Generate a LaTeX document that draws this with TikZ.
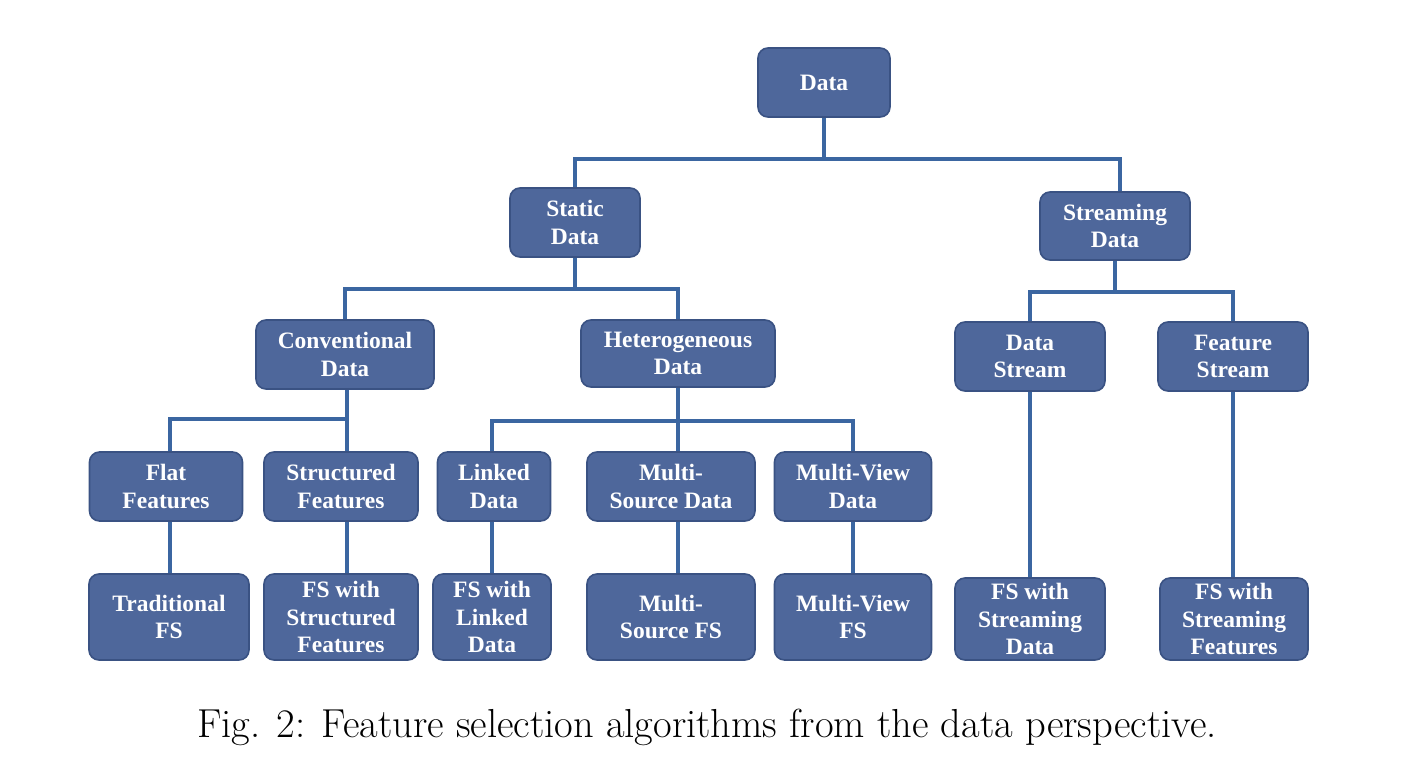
\documentclass[tikz,border=0pt]{standalone}
\usepackage{fontspec}
\newfontfamily\boxfont{Liberation Serif}
\definecolor{boxfill}{HTML}{4E679B}
\definecolor{boxline}{HTML}{3A5283}
\definecolor{wire}{HTML}{3B66A1}
\tikzset{
  box/.style={draw=boxline, line width=1.6pt, fill=boxfill, rounded corners=10pt,
    text=white, align=center, inner sep=0pt,
    font=\boxfont\bfseries\fontsize{23.5}{27.5}\selectfont},
  wire/.style={draw=wire, line width=4pt}
}
\begin{document}
\begin{tikzpicture}[x=1pt,y=-1pt]
\useasboundingbox (0,0) rectangle (1406,772);

\node[box, minimum width=132pt, minimum height=69pt] (data) at (824,82.5) {Data};
\node[box, minimum width=130pt, minimum height=69pt] (static) at (575,222.5) {Static\\Data};
\node[box, minimum width=150pt, minimum height=68pt] (stream) at (1115,226) {Streaming\\Data};
\node[box, minimum width=178pt, minimum height=69pt] (conv) at (345,354.5) {Conventional\\Data};
\node[box, minimum width=194pt, minimum height=67pt] (hetero) at (678,353.5) {Heterogeneous\\Data};
\node[box, minimum width=150pt, minimum height=69pt] (dstream) at (1030,356.5) {Data\\Stream};
\node[box, minimum width=150pt, minimum height=69pt] (fstream) at (1233,356.5) {Feature\\Stream};
\node[box, minimum width=153pt, minimum height=69pt] (flat) at (166,486.5) {Flat\\Features};
\node[box, minimum width=154pt, minimum height=69pt] (struct) at (341,486.5) {Structured\\Features};
\node[box, minimum width=113pt, minimum height=69pt] (linked) at (494,486.5) {Linked\\Data};
\node[box, minimum width=168pt, minimum height=69pt] (msource) at (671,486.5) {Multi-\\Source Data};
\node[box, minimum width=157pt, minimum height=69pt] (mview) at (853,486.5) {Multi-View\\Data};
\node[box, minimum width=160pt, minimum height=86pt] (tradfs) at (169,617) {Traditional\\FS};
\node[box, minimum width=154pt, minimum height=86pt] (structfs) at (341,617) {FS with\\Structured\\Features};
\node[box, minimum width=118pt, minimum height=86pt] (linkedfs) at (492,617) {FS with\\Linked\\Data};
\node[box, minimum width=168pt, minimum height=86pt] (msourcefs) at (671,617) {Multi-\\Source FS};
\node[box, minimum width=157pt, minimum height=86pt] (mviewfs) at (853,617) {Multi-View\\FS};
\node[box, minimum width=150pt, minimum height=82pt] (dstreamfs) at (1030,619) {FS with\\Streaming\\Data};
\node[box, minimum width=148pt, minimum height=82pt] (fstreamfs) at (1234,619) {FS with\\Streaming\\Features};

% tree wires
\draw[wire] (data.south) -- ++(0,41) coordinate (b0);
\draw[wire] (static.north) |- (b0) -| ([xshift=5pt]stream.north);
\draw[wire] (static.south) -- ++(0,31) coordinate (b1);
\draw[wire] (conv.north) |- (b1) -| (hetero.north);
\draw[wire] (stream.south) -- ++(0,31) coordinate (b2);
\draw[wire] (dstream.north) |- (b2) -| (fstream.north);
\draw[wire] ([xshift=2pt]conv.south) -- ++(0,29) coordinate (b3);
\draw[wire] ([xshift=4pt]flat.north) |- (b3) -- (b3 |- struct.north);
\draw[wire] (hetero.south) -- ++(0,33) coordinate (b4);
\draw[wire] (linked.north -| linkedfs) |- (b4) -| (mview.north);
\draw[wire] (b4) -- (b4 |- msource.north);
% leaf wires
\draw[wire] ([xshift=4pt]flat.south) -- ([xshift=4pt]flat.south |- tradfs.north);
\draw[wire] (b3 |- struct.south) -- (b3 |- structfs.north);
\draw[wire] (linked.south -| linkedfs) -- (linkedfs);
\draw[wire] (b4 |- msource.south) -- (b4 |- msourcefs.north);
\draw[wire] (mview) -- (mviewfs);
\draw[wire] (dstream) -- (dstreamfs);
\draw[wire] (fstream.south) -- (fstream.south |- fstreamfs.north);

\node[font=\fontsize{40.5}{46}\selectfont, anchor=base] (caption) at (707,737) {Fig. 2: Feature selection algorithms from the data perspective.};
\end{tikzpicture}
\end{document}
